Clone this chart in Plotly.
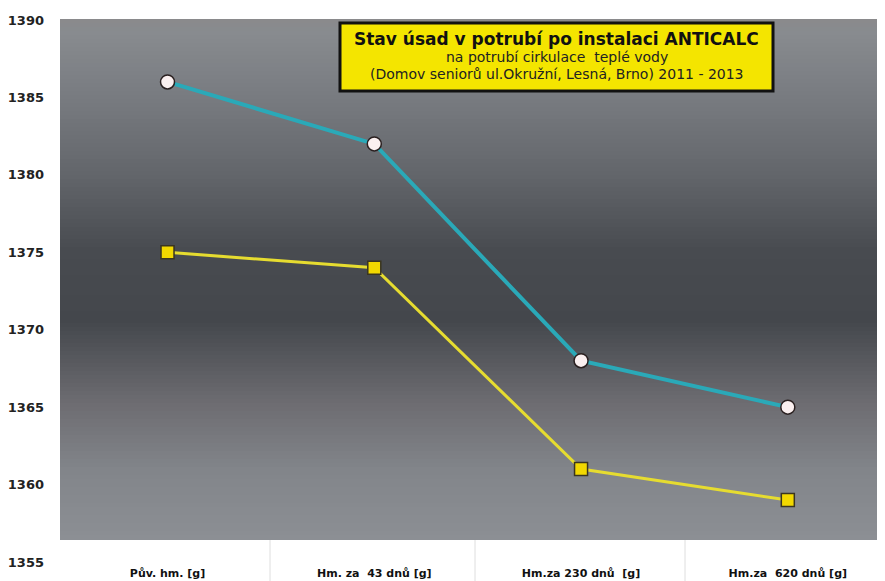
import plotly.graph_objects as go

categories = ["Pův. hm. [g]", "Hm. za  43 dnů [g]", "Hm.za 230 dnů  [g]", "Hm.za  620 dnů [g]"]
series_cyan = [1386, 1382, 1368, 1365]
series_yellow = [1375, 1374, 1361, 1359]
y_ticks = [1355, 1360, 1365, 1370, 1375, 1380, 1385, 1390]

title_lines = [
    "<b>Stav úsad v potrubí po instalaci ANTICALC</b>",
    "na potrubí cirkulace  teplé vody",
    "(Domov seniorů ul.Okružní, Lesná, Brno) 2011 - 2013",
]

OFF = 8  # page body margin
W, H = 885 - OFF, 581 - OFF
plot_left, plot_top, plot_bottom = 60, 20, 562  # in page pixels
ml = plot_left - OFF
mt = plot_top - OFF
mb = H - (plot_bottom - OFF)
mr = 0
ph = H - mt - mb
pw = W - ml - mr

# background gradient stops (page pixel y, rgb)
stops = [(19, (138, 138, 140)), (32, (136, 139, 143)), (90, (122, 125, 130)),
         (170, (100, 103, 108)), (250, (72, 75, 80)), (320, (68, 71, 76)),
         (400, (108, 107, 112)), (470, (130, 133, 138)), (540, (140, 143, 148))]

def col_at(py):
    for (y0, c0), (y1, c1) in zip(stops[:-1], stops[1:]):
        if y0 <= py <= y1:
            t = (py - y0) / (y1 - y0)
            return tuple(int(round(a + (b - a) * t)) for a, b in zip(c0, c1))
    return stops[-1][1]

def to_paper(py):
    return (plot_bottom - py) / ph

def to_px(px):
    return (px - plot_left) / pw

shapes = []
step = 4
py = 19
while py < 540:
    py2 = min(py + step, 540)
    c = col_at((py + py2) / 2)
    shapes.append(dict(type="rect", xref="paper", yref="paper", x0=0, x1=1,
                       y0=to_paper(py2), y1=to_paper(py), layer="below",
                       line=dict(width=0), fillcolor="rgb(%d,%d,%d)" % c))
    py = py2

# faint separators in the label band
for xp in [270, 475, 685]:
    shapes.append(dict(type="line", xref="paper", yref="paper",
                       x0=to_px(xp), x1=to_px(xp),
                       y0=to_paper(581), y1=to_paper(540), layer="below",
                       line=dict(color="rgba(200,200,200,0.6)", width=1)))

# title box
bx0, bx1, by0, by1 = 340, 773, 23, 91
shapes.append(dict(type="rect", xref="paper", yref="paper",
                   x0=to_px(bx0), x1=to_px(bx1),
                   y0=to_paper(by1), y1=to_paper(by0),
                   fillcolor="#f4e500", line=dict(color="#111111", width=3)))

fig = go.Figure()
fig.add_trace(go.Scatter(
    x=categories, y=series_yellow, mode="lines+markers",
    line=dict(color="#e6dc30", width=3),
    marker=dict(symbol="square", size=13, color="#f2d800",
                line=dict(color="#3a3520", width=1.5)),
    showlegend=False, cliponaxis=False))
fig.add_trace(go.Scatter(
    x=categories, y=series_cyan, mode="lines+markers",
    line=dict(color="#2aa9b8", width=4),
    marker=dict(symbol="circle", size=14, color="#fbf0f0",
                line=dict(color="#2a2020", width=1.5)),
    showlegend=False, cliponaxis=False))

cx = to_px((bx0 + bx1) / 2)
fam = "DejaVu Sans, Verdana"
annotations = [
    dict(xref="paper", yref="paper", x=cx, y=to_paper(39), text=title_lines[0],
         yanchor="middle", xanchor="center",
         showarrow=False, font=dict(family=fam, size=17, color="#111111")),
    dict(xref="paper", yref="paper", x=cx, y=to_paper(57), text=title_lines[1],
         yanchor="middle", xanchor="center",
         showarrow=False, font=dict(family=fam, size=14, color="#222222")),
    dict(xref="paper", yref="paper", x=cx, y=to_paper(74), text=title_lines[2],
         yanchor="middle", xanchor="center",
         showarrow=False, font=dict(family=fam, size=14, color="#222222")),
]

fig.update_layout(
    width=W, height=H,
    margin=dict(l=ml, r=mr, t=mt, b=mb, autoexpand=False),
    paper_bgcolor="white", plot_bgcolor="white",
    shapes=shapes, annotations=annotations,
    xaxis=dict(range=[-0.52, 3.47], showgrid=False, zeroline=False, showline=False,
               automargin=False, ticks="", ticklabelstandoff=3,
               tickfont=dict(family=fam, size=11, color="#111111"),
               tickvals=categories,
               ticktext=["<b>%s</b>" % c for c in categories]),
    yaxis=dict(range=[1355, 1390], tickvals=y_ticks, automargin=False,
               ticktext=["<b>%d</b>" % v for v in y_ticks],
               showgrid=False, zeroline=False, showline=False, ticks="",
               ticklabelstandoff=15,
               tickfont=dict(family=fam, size=13, color="#222222")),
)

fig.write_html("out.html")
